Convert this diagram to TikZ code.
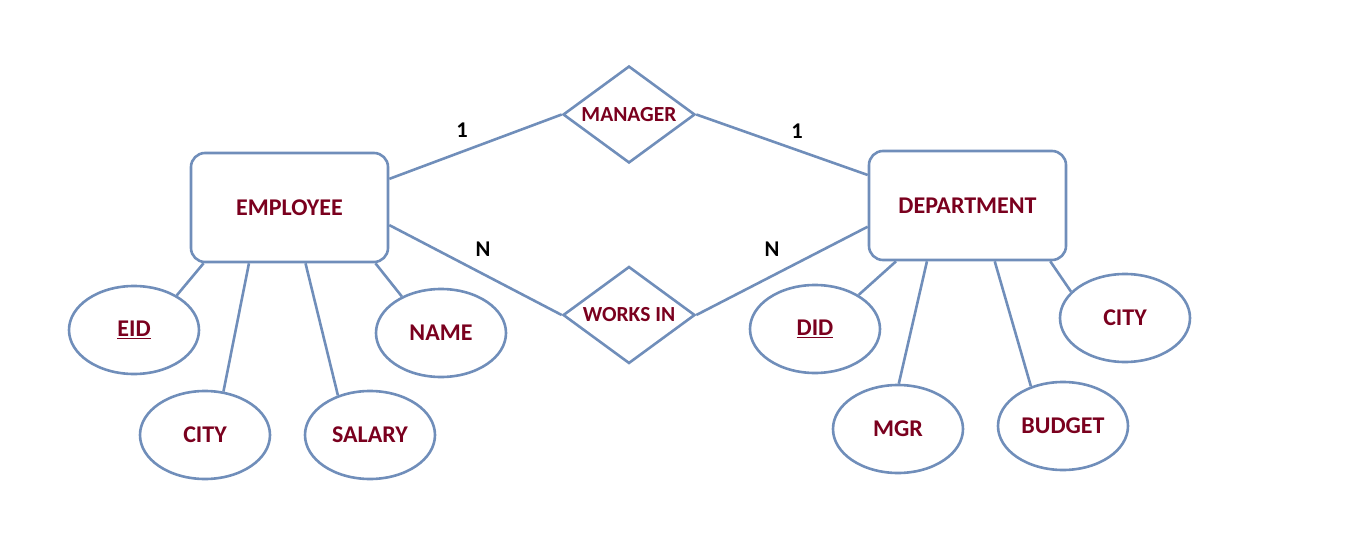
\documentclass[tikz,border=0pt]{standalone}
\usepackage{fontspec}
\setmainfont{Carlito}
\usetikzlibrary{shapes.geometric}
\definecolor{erline}{RGB}{112,142,186}
\definecolor{ertext}{RGB}{122,0,30}
\begin{document}
\begin{tikzpicture}[x=1pt,y=-1pt,
  every node/.style={font=\fontsize{24}{26}\selectfont\bfseries, text=ertext},
  entity/.style={draw=erline, line width=2.6pt, rounded corners=14pt, minimum width=197pt, minimum height=109pt, inner sep=0pt},
  rel/.style={draw=erline, line width=2.6pt, diamond, aspect=1.36, minimum width=132pt, minimum height=97pt, inner sep=0pt, font=\fontsize{21.5}{23}\selectfont\bfseries},
  attr/.style={draw=erline, line width=2.6pt, ellipse, minimum width=130pt, minimum height=88pt, inner sep=0pt},
  conn/.style={draw=erline, line width=2.6pt},
  card/.style={text=black, font=\fontsize{22.5}{24}\selectfont\bfseries}]
\useasboundingbox (0,0) rectangle (1360,559);
\node[entity] (emp) at (289.5,207.5) {EMPLOYEE};
\node[entity] (dept) at (967.5,205.5) {DEPARTMENT};
\node[rel] (mgr) at (629,114.5) {MANAGER};
\node[rel] (works) at (629,315) {WORKS IN};
\node[attr] (eid) at (134,330) {\underline{EID}};
\node[attr] (ecity) at (205,435) {CITY};
\node[attr] (salary) at (370,435) {SALARY};
\node[attr] (name) at (441,333) {NAME};
\node[attr] (did) at (815,329) {\underline{DID}};
\node[attr] (dmgr) at (898,429) {MGR};
\node[attr] (budget) at (1063,426) {BUDGET};
\node[attr] (dcity) at (1125,318) {CITY};
\draw[conn] (emp.16.7) -- (mgr.west);
\draw[conn] (mgr.east) -- (dept.163.3);
\draw[conn] (emp.-10.6) -- (works.west);
\draw[conn] (works.east) -- (dept.-168.2);
\draw[conn] (emp.-147.2) -- (eid.39.5);
\draw[conn] (emp.-126.6) -- (ecity.67);
\draw[conn] (emp.-74.1) -- (salary.129);
\draw[conn] (emp.-33.4) -- (name.137);
\draw[conn] (dept.-142.3) -- (did.38);
\draw[conn] (dept.-126.6) -- (dmgr.89);
\draw[conn] (dept.-64.1) -- (budget.129);
\draw[conn] (dept.-34.1) -- (dcity.154);
\node[card] (c1) at (462,130) {1};
\node[card] (c2) at (797,131) {1};
\node[card] (c3) at (483,249) {N};
\node[card] (c4) at (772,249) {N};
\end{tikzpicture}
\end{document}
